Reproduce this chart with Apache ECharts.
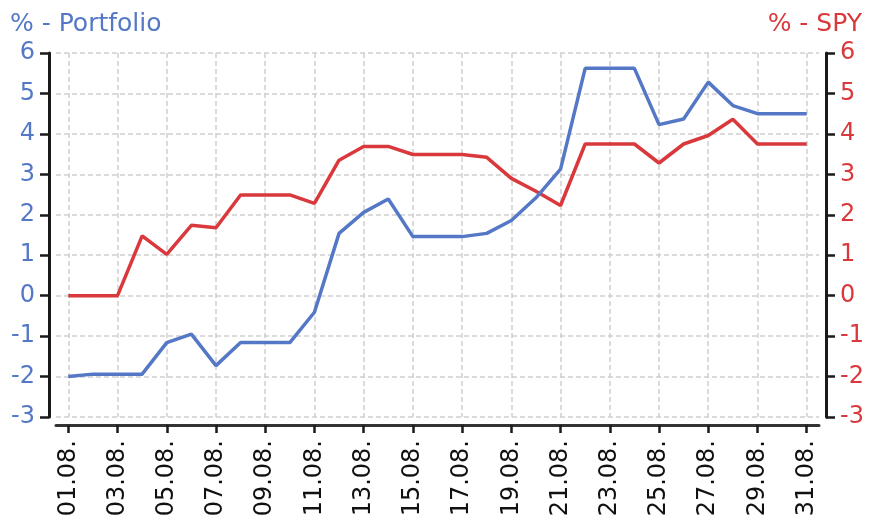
<!DOCTYPE html>
<html>
<head>
<meta charset="utf-8">
<script src="https://cdn.jsdelivr.net/npm/echarts@6/dist/echarts.min.js"></script>
<style>
html,body{margin:0;padding:0;background:#fff;}
#main{width:880px;height:525px;}
</style>
</head>
<body>
<div id="main"></div>
<script>
const days = ['01.08.','02.08.','03.08.','04.08.','05.08.','06.08.','07.08.','08.08.','09.08.','10.08.',
  '11.08.','12.08.','13.08.','14.08.','15.08.','16.08.','17.08.','18.08.','19.08.','20.08.',
  '21.08.','22.08.','23.08.','24.08.','25.08.','26.08.','27.08.','28.08.','29.08.','30.08.','31.08.'];
const portfolio = [-2.0, -1.94, -1.94, -1.94, -1.16, -0.95, -1.73, -1.16, -1.16, -1.16,
  -0.41, 1.54, 2.06, 2.39, 1.46, 1.46, 1.46, 1.54, 1.86, 2.42,
  3.13, 5.62, 5.62, 5.62, 4.23, 4.37, 5.28, 4.70, 4.50, 4.50, 4.50];
const spy = [0, 0, 0, 1.48, 1.02, 1.74, 1.68, 2.49, 2.49, 2.49,
  2.28, 3.35, 3.69, 3.69, 3.49, 3.49, 3.49, 3.42, 2.90, 2.58,
  2.23, 3.75, 3.75, 3.75, 3.28, 3.75, 3.96, 4.36, 3.75, 3.75, 3.75];
const leftTitle = '% - Portfolio';
const rightTitle = '% - SPY';

const BLUE = '#5478c6';
const RED = '#d9393c';
const FONT = 'DejaVu Sans';

const chart = echarts.init(document.getElementById('main'), null, {renderer: 'canvas'});
const gridLine = {show: true, lineStyle: {color: '#cfcfcf', type: [5, 3], width: 1.5}};
const yCommon = {
  type: 'value', min: -3, max: 6, interval: 1, offset: 7,
  axisLine: {show: true, lineStyle: {color: '#1a1a1a', width: 3}},
  axisTick: {show: true, length: 9, lineStyle: {color: '#1a1a1a', width: 2.5}},
  splitLine: {show: false}
};
chart.setOption({
  animation: false,
  backgroundColor: '#fff',
  title: [
    {text: leftTitle, left: 5, top: 7, textStyle: {fontFamily: FONT, fontSize: 25, fontWeight: 'normal', color: BLUE}},
    {text: rightTitle, right: 13, top: 7, textStyle: {fontFamily: FONT, fontSize: 25, fontWeight: 'normal', color: RED}}
  ],
  grid: {left: 56, right: 61, top: 53, bottom: 108, containLabel: false},
  xAxis: {
    type: 'category', data: days, boundaryGap: true, offset: 8,
    axisLine: {show: true, onZero: false, lineStyle: {color: '#333', width: 3}},
    axisTick: {show: true, alignWithLabel: true, interval: 1, length: 8, lineStyle: {color: '#1a1a1a', width: 2.5}},
    axisLabel: {interval: 1, rotate: 90, margin: 15, color: '#111', fontFamily: FONT, fontSize: 24},
    splitLine: Object.assign({alignWithLabel: true, interval: 1}, gridLine)
  },
  yAxis: [
    Object.assign({}, yCommon, {position: 'left', splitLine: gridLine,
      axisLabel: {margin: 14, color: BLUE, fontFamily: FONT, fontSize: 24}}),
    Object.assign({}, yCommon, {position: 'right',
      axisLabel: {margin: 14, color: RED, fontFamily: FONT, fontSize: 24}})
  ],
  series: [
    {name: 'Portfolio', type: 'line', yAxisIndex: 0, data: portfolio, showSymbol: false, symbol: 'none',
      lineStyle: {color: BLUE, width: 3.5}, z: 3},
    {name: 'SPY', type: 'line', yAxisIndex: 1, data: spy, showSymbol: false, symbol: 'none',
      lineStyle: {color: RED, width: 3.5}, z: 2}
  ]
});
</script>
</body>
</html>
